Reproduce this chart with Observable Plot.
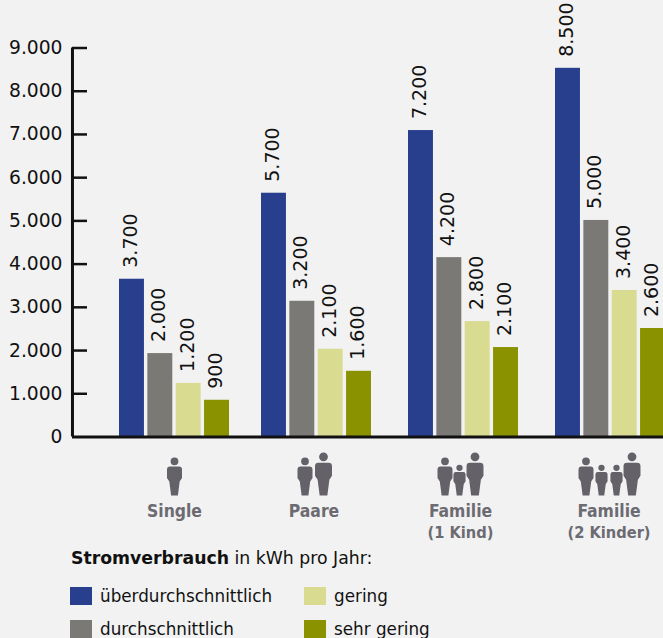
<!DOCTYPE html>
<html lang="de">
<head>
<meta charset="utf-8">
<script src="https://cdn.jsdelivr.net/npm/d3@7"></script>
<script src="https://cdn.jsdelivr.net/npm/@observablehq/plot@0.6"></script>
<style>
html,body{margin:0;padding:0;background:#f2f2f2;overflow:hidden;width:663px;height:638px;}
#chart svg{display:block;}
#legend{position:relative;height:93px;font-family:"DejaVu Sans",sans-serif;font-size:16.8px;color:#111;}
#legend .t{position:absolute;left:71px;top:4px;line-height:19px;white-space:nowrap;font-size:17.3px;}
#legend .i{position:absolute;white-space:nowrap;line-height:18px;margin-top:-0.5px;}
#legend .s{position:absolute;width:22px;height:18px;}
</style>
</head>
<body>
<div id="chart"></div>
<div id="legend"></div>
<script>
const groups = ["Single", "Paare", "Familie\n(1 Kind)", "Familie\n(2 Kinder)"];
const series = ["überdurchschnittlich", "durchschnittlich", "gering", "sehr gering"];
const colors = ["#273f8d", "#7a7976", "#d8db90", "#8b9200"];
const ueberdurchschnittlich = [3650, 5640, 7090, 8530];
const durchschnittlich = [1930, 3140, 4150, 5010];
const gering = [1240, 2030, 2670, 3390];
const sehrGering = [850, 1520, 2070, 2510];
const labelsUeber = [3700, 5700, 7200, 8500];
const labelsDurch = [2000, 3200, 4200, 5000];
const labelsGering = [1200, 2100, 2800, 3400];
const labelsSehr = [900, 1600, 2100, 2600];
const yTicks = [0, 1000, 2000, 3000, 4000, 5000, 6000, 7000, 8000, 9000];
const barNudge = [0, -3.5, -2, -0.5];
const groupNudge = [0, -6, -5, -2];

const heights = [ueberdurchschnittlich, durchschnittlich, gering, sehrGering];
const labels = [labelsUeber, labelsDurch, labelsGering, labelsSehr];
const rows = groups.flatMap((g, gi) => series.map((s, si) => ({
  group: g, gi, series: s, value: heights[si][gi], label: labels[si][gi]
})));

const de = v => v === 0 ? "0" : String(v).replace(/\B(?=(\d{3})+$)/g, ".");

// Pictogram of one person, standing on y = 0
function person(ctx, cx, k) {
  const p = (x, y) => [cx + x * k, y * k];
  ctx.moveTo(...p(-3.4, 0));
  ctx.lineTo(...p(-5.2, -14));
  ctx.lineTo(...p(-7.5, -17.5));
  ctx.lineTo(...p(-7.5, -26));
  ctx.quadraticCurveTo(...p(-7.5, -29), ...p(-4.5, -29));
  ctx.lineTo(...p(4.5, -29));
  ctx.quadraticCurveTo(...p(7.5, -29), ...p(7.5, -26));
  ctx.lineTo(...p(7.5, -17.5));
  ctx.lineTo(...p(5.2, -14));
  ctx.lineTo(...p(3.4, 0));
  ctx.closePath();
  const [hx, hy] = p(0, -34.2);
  const r = 3.9 * k;
  ctx.moveTo(hx + r, hy);
  ctx.arc(hx, hy, r, 0, 2 * Math.PI);
  ctx.closePath();
}
const A = 1, L = 1.13, C = 0.81;
const icons = [
  [[0, A]],
  [[-9, A], [9.5, L]],
  [[-15.5, A], [-1, C], [14.5, L]],
  [[-23, A], [-7.5, C], [7.5, C], [23, L]]
];
const iconSymbol = people => ({
  draw(ctx) { people.forEach(([cx, k]) => person(ctx, cx, k)); }
});

const font = '"DejaVu Sans", sans-serif';
const condensed = '"DejaVu Sans Condensed", "DejaVu Sans", sans-serif';
const first = () => groups[0];
const plot = Plot.plot({
  width: 663,
  height: 545,
  marginTop: 47.5,
  marginBottom: 108.5,
  marginLeft: 72,
  marginRight: 0,
  style: {background: "transparent", fontFamily: font, overflow: "hidden"},
  fx: {domain: groups, range: [72, 712.5], paddingInner: 0.244, paddingOuter: 0.323, round: false, axis: null, label: null},
  x: {domain: series, paddingInner: 0.12, paddingOuter: 0, round: false, axis: null, label: null},
  y: {domain: [0, 9000], axis: null, label: null},
  marks: [
    ...groups.flatMap((g, gi) => {
      const d = rows.filter(r => r.gi === gi);
      const [name, detail] = g.split("\n");
      const nameLines = [{g, t: name, dy: 68, size: 17.4}];
      if (detail) nameLines.push({g, t: detail, dy: 89, size: 16.3});
      return [
        Plot.barY(d, {fx: "group", x: "series", y: "value", fill: r => colors[series.indexOf(r.series)], dx: barNudge[gi]}),
        Plot.text(d, {
          fx: "group", x: "series", y: "value", text: r => de(r.label), rotate: -90,
          textAnchor: "start", lineAnchor: "middle", dy: -11.5, dx: barNudge[gi] - 1,
          fontSize: 19, fill: "#111"
        }),
        Plot.dot([g], {
          fx: d => d, frameAnchor: "bottom", dy: 58.5, dx: groupNudge[gi],
          symbol: iconSymbol(icons[gi]), fill: "#646169", stroke: "none"
        }),
        ...nameLines.map(l => Plot.text([l], {
          fx: "g", frameAnchor: "bottom", dy: l.dy, dx: groupNudge[gi],
          text: "t", lineAnchor: "top", textAnchor: "middle",
          fontFamily: condensed, fontSize: l.size, fontWeight: "bold", fill: "#6c6b72"
        }))
      ];
    }),
    Plot.ruleY(yTicks.slice(1), {y: d => d, fx: first, dx: -47, insetRight: 95, stroke: "#111", strokeWidth: 2.5}),
    Plot.ruleY([0], {y: d => d, fx: first, dx: -47, insetRight: -600, stroke: "#111", strokeWidth: 3}),
    Plot.ruleX([series[0]], {x: d => d, fx: first, dx: -59.5, y1: 0, y2: 9000, stroke: "#111", strokeWidth: 3}),
    Plot.text(yTicks, {
      y: d => d, text: de, fx: first, frameAnchor: "left", textAnchor: "end",
      dx: -57, fontSize: 18.7, fill: "#111"
    })
  ]
});
document.getElementById("chart").append(plot);

const legend = document.getElementById("legend");
legend.innerHTML = '<div class="t"><b>Stromverbrauch</b> in kWh pro Jahr:</div>';
const swatchX = [70, 304], textX = [100, 334], rowY = [42, 75];
series.forEach((s, i) => {
  const col = i < 2 ? 0 : 1, row = i % 2;
  legend.insertAdjacentHTML("beforeend",
    `<div class="s" style="left:${swatchX[col]}px;top:${rowY[row]}px;background:${colors[i]}"></div>` +
    `<div class="i" style="left:${textX[col]}px;top:${rowY[row]}px">${s}</div>`);
});
</script>
</body>
</html>
